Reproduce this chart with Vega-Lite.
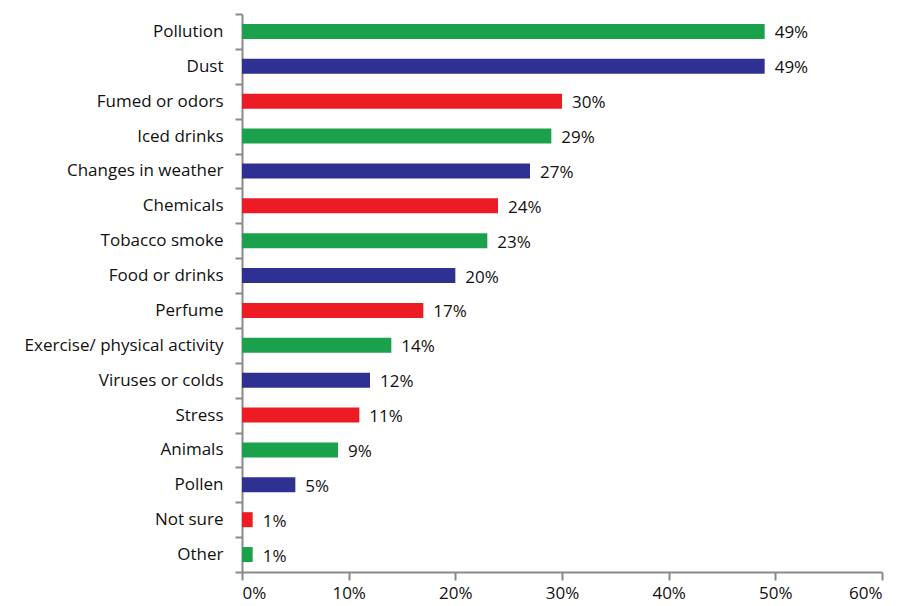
{
  "$schema": "https://vega.github.io/schema/vega-lite/v6.json",
  "width": 640,
  "height": 558,
  "autosize": {"type": "none"},
  "padding": {"left": 242, "top": 14, "right": 21, "bottom": 34},
  "background": "white",
  "config": {
    "view": {"stroke": null},
    "font": "Open Sans",
    "axis": {
      "grid": false,
      "domainColor": "#8a8a8a",
      "domainWidth": 2,
      "tickColor": "#8a8a8a",
      "tickWidth": 2,
      "labelColor": "#111111",
      "labelFont": "Open Sans",
      "labelFontSize": 17,
      "labelLimit": 400,
      "title": null
    }
  },
  "data": {
    "values": [
      {"cause": "Pollution", "share": 0.49},
      {"cause": "Dust", "share": 0.49},
      {"cause": "Fumed or odors", "share": 0.30},
      {"cause": "Iced drinks", "share": 0.29},
      {"cause": "Changes in weather", "share": 0.27},
      {"cause": "Chemicals", "share": 0.24},
      {"cause": "Tobacco smoke", "share": 0.23},
      {"cause": "Food or drinks", "share": 0.20},
      {"cause": "Perfume", "share": 0.17},
      {"cause": "Exercise/ physical activity", "share": 0.14},
      {"cause": "Viruses or colds", "share": 0.12},
      {"cause": "Stress", "share": 0.11},
      {"cause": "Animals", "share": 0.09},
      {"cause": "Pollen", "share": 0.05},
      {"cause": "Not sure", "share": 0.01},
      {"cause": "Other", "share": 0.01}
    ]
  },
  "encoding": {
    "y": {
      "field": "cause",
      "type": "nominal",
      "sort": null,
      "scale": {"paddingInner": 0, "paddingOuter": 0},
      "axis": {
        "tickBand": "extent",
        "tickSize": 7,
        "labelPadding": 12,
        "domainWidth": 2
      }
    },
    "x": {
      "field": "share",
      "type": "quantitative",
      "scale": {"domain": [0, 0.6], "nice": false},
      "axis": {
        "values": [0, 0.1, 0.2, 0.3, 0.4, 0.5, 0.6],
        "format": ".0%",
        "tickSize": 8,
        "labelPadding": 5
      }
    }
  },
  "layer": [
    {
      "mark": {"type": "bar", "size": 15},
      "encoding": {
        "color": {
          "field": "cause",
          "type": "nominal",
          "legend": null,
          "scale": {
            "domain": ["Pollution", "Dust", "Fumed or odors", "Iced drinks", "Changes in weather", "Chemicals", "Tobacco smoke", "Food or drinks", "Perfume", "Exercise/ physical activity", "Viruses or colds", "Stress", "Animals", "Pollen", "Not sure", "Other"],
            "range": ["#1ba14b", "#2e3192", "#ed1c24", "#1ba14b", "#2e3192", "#ed1c24", "#1ba14b", "#2e3192", "#ed1c24", "#1ba14b", "#2e3192", "#ed1c24", "#1ba14b", "#2e3192", "#ed1c24", "#1ba14b"]
          }
        }
      }
    },
    {
      "mark": {"type": "text", "align": "left", "baseline": "middle", "dx": 10, "dy": 2, "fontSize": 17, "color": "#111111"},
      "encoding": {
        "text": {"field": "share", "type": "quantitative", "format": ".0%"}
      }
    }
  ]
}
